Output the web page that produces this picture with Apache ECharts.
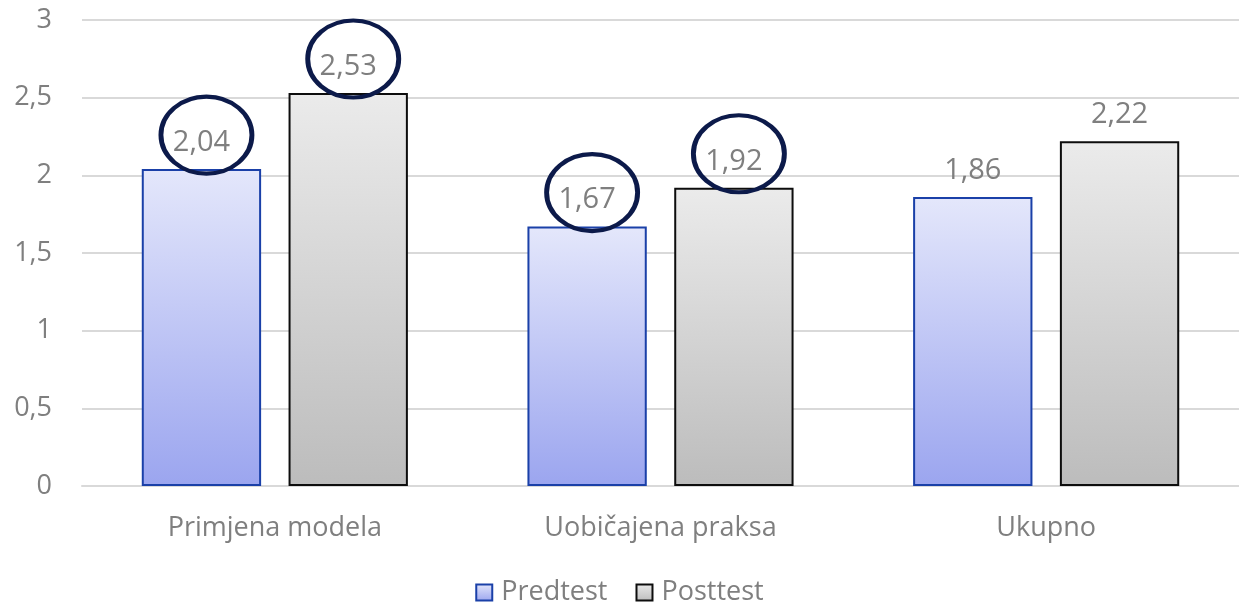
<!DOCTYPE html>
<html>
<head>
<meta charset="utf-8">
<script src="https://cdn.jsdelivr.net/npm/echarts@6/dist/echarts.min.js"></script>
<style>
html,body{margin:0;padding:0;background:#fff;}
#c{width:1239px;height:602px;}
</style>
</head>
<body>
<div id="c"></div>
<script>
const categories = ['Primjena modela', 'Uobičajena praksa', 'Ukupno'];
const predtest = [2.04, 1.67, 1.86];
const posttest = [2.53, 1.92, 2.22];
const predtestCircled = [true, true, false];
const posttestCircled = [true, true, false];
const yTicks = [0, 0.5, 1, 1.5, 2, 2.5, 3];

const FONT = '"Open Sans", sans-serif';
const GREY = '#7f7f7f';

function fmt(v) { return String(v).replace('.', ','); }

function circles(values, flags) {
  return values.map((v, i) => flags[i] ? { coord: [categories[i], v] } : null).filter(Boolean);
}

const markStyle = {
  symbol: 'circle',
  symbolSize: [91, 77],
  symbolOffset: [5, -34],
  silent: true,
  label: { show: false },
  itemStyle: { color: 'rgba(0,0,0,0)', borderColor: '#0c1a4a', borderWidth: 4.5 },
  emphasis: { disabled: true }
};

const chart = echarts.init(document.getElementById('c'), null, { renderer: 'canvas' });
chart.setOption({
  animation: false,
  backgroundColor: '#ffffff',
  grid: { left: 82, width: 1164, top: 20, bottom: 116, containLabel: false },
  legend: {
    top: 574,
    left: 'center',
    icon: 'rect',
    itemWidth: 16,
    itemHeight: 16,
    itemGap: 28,
    textStyle: { color: GREY, fontSize: 27, fontFamily: FONT, padding: [0, 0, 0, 4] },
    data: ['Predtest', 'Posttest']
  },
  xAxis: {
    type: 'category',
    data: categories,
    axisLine: { lineStyle: { color: '#d9d9d9', width: 2 } },
    axisTick: { show: false },
    axisLabel: { color: GREY, fontSize: 27, fontFamily: FONT, margin: 29 }
  },
  yAxis: {
    type: 'value',
    min: yTicks[0],
    max: yTicks[yTicks.length - 1],
    interval: yTicks[1] - yTicks[0],
    axisLine: { show: false },
    axisTick: { show: false },
    splitLine: { lineStyle: { color: '#d9d9d9', width: 2 } },
    axisLabel: { color: GREY, fontSize: 27, fontFamily: FONT, margin: 30, formatter: v => fmt(v) }
  },
  series: [
    {
      name: 'Predtest',
      type: 'bar',
      data: predtest,
      barCategoryGap: '31%',
      barGap: '23%',
      itemStyle: {
        color: new echarts.graphic.LinearGradient(0, 0, 0, 1, [
          { offset: 0, color: '#e4e7fb' },
          { offset: 1, color: '#9ba5ef' }
        ]),
        borderColor: '#1a40a8',
        borderWidth: 2
      },
      label: { show: true, position: 'top', distance: 12, color: GREY, fontSize: 29, fontFamily: FONT, formatter: p => fmt(p.value) },
      markPoint: Object.assign({ data: circles(predtest, predtestCircled) }, markStyle)
    },
    {
      name: 'Posttest',
      type: 'bar',
      data: posttest,
      itemStyle: {
        color: new echarts.graphic.LinearGradient(0, 0, 0, 1, [
          { offset: 0, color: '#ebebeb' },
          { offset: 1, color: '#bcbcbc' }
        ]),
        borderColor: '#0d0d0d',
        borderWidth: 2
      },
      label: { show: true, position: 'top', distance: 12, color: GREY, fontSize: 29, fontFamily: FONT, formatter: p => fmt(p.value) },
      markPoint: Object.assign({ data: circles(posttest, posttestCircled) }, markStyle)
    }
  ]
});
</script>
</body>
</html>
